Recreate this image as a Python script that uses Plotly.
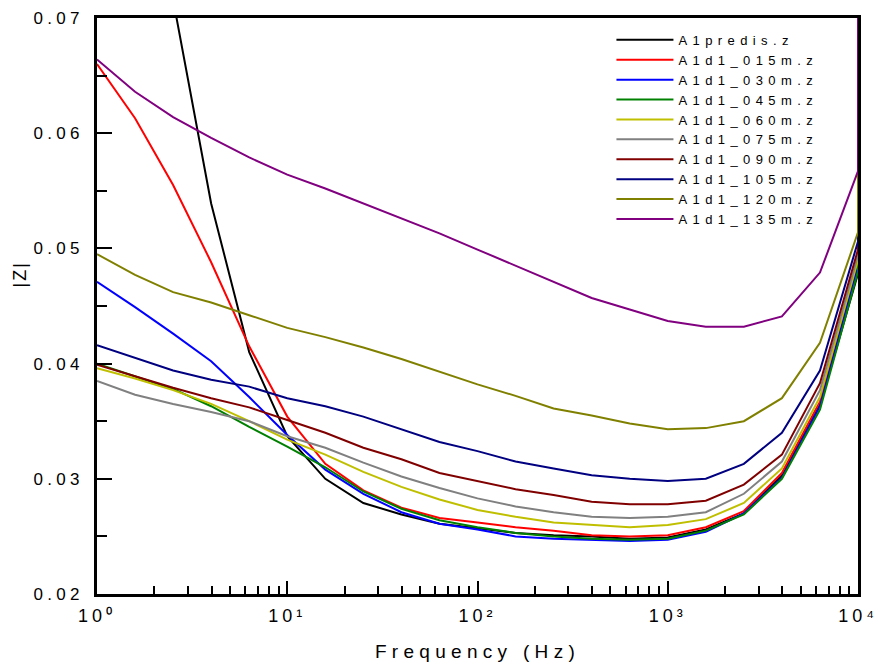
import numpy as np
import plotly.graph_objects as go

# Measurement frequencies (Hz), five points per decade; the last reading lies above 10 kHz
freq = [1.0, 1.585, 2.512, 3.981, 6.310, 10.0, 15.85, 25.12, 39.81, 63.10,
        100.0, 158.5, 251.2, 398.1, 631.0, 1000.0, 1585.0, 2512.0, 3981.0,
        6310.0, 10000.0, 15850.0]

a1predis = [0.112, 0.090, 0.0716, 0.0539, 0.0410, 0.0337, 0.0300, 0.0279, 0.0269, 0.0261,
            0.0257, 0.0253, 0.0251, 0.0250, 0.0248, 0.0249, 0.0256, 0.0270, 0.0303,
            0.0364, 0.0478, 0.085]
a1d1_015 = [0.0660, 0.0613, 0.0555, 0.0488, 0.0415, 0.0354, 0.0313, 0.0290, 0.0275, 0.0266,
            0.0262, 0.0258, 0.0255, 0.0251, 0.0250, 0.0251, 0.0258, 0.0272, 0.0305,
            0.0367, 0.0487, 0.086]
a1d1_030 = [0.0471, 0.0449, 0.0426, 0.0402, 0.0371, 0.0338, 0.0308, 0.0287, 0.0271, 0.0261,
            0.0256, 0.0250, 0.0248, 0.0247, 0.0246, 0.0247, 0.0254, 0.0270, 0.0301,
            0.0363, 0.0485, 0.086]
a1d1_045 = [0.0400, 0.0389, 0.0378, 0.0363, 0.0345, 0.0328, 0.0310, 0.0289, 0.0274, 0.0264,
            0.0258, 0.0253, 0.0250, 0.0248, 0.0247, 0.0248, 0.0255, 0.0269, 0.0300,
            0.0360, 0.0480, 0.085]
a1d1_060 = [0.0396, 0.0387, 0.0377, 0.0365, 0.0350, 0.0334, 0.0321, 0.0306, 0.0293, 0.0282,
            0.0273, 0.0267, 0.0262, 0.0260, 0.0258, 0.0260, 0.0265, 0.0279, 0.0309,
            0.0371, 0.0490, 0.087]
a1d1_075 = [0.0385, 0.0373, 0.0365, 0.0358, 0.0350, 0.0337, 0.0327, 0.0314, 0.0302, 0.0292,
            0.0283, 0.0276, 0.0271, 0.0267, 0.0266, 0.0267, 0.0271, 0.0287, 0.0315,
            0.0377, 0.0494, 0.087]
a1d1_090 = [0.0399, 0.0389, 0.0379, 0.0370, 0.0362, 0.0351, 0.0340, 0.0327, 0.0317, 0.0305,
            0.0298, 0.0291, 0.0286, 0.0280, 0.0278, 0.0278, 0.0281, 0.0295, 0.0321,
            0.0383, 0.0499, 0.088]
a1d1_105 = [0.0416, 0.0405, 0.0394, 0.0386, 0.0380, 0.0370, 0.0363, 0.0354, 0.0343, 0.0332,
            0.0324, 0.0315, 0.0309, 0.0303, 0.0300, 0.0298, 0.0300, 0.0313, 0.0340,
            0.0394, 0.0506, 0.089]
a1d1_120 = [0.0495, 0.0477, 0.0462, 0.0453, 0.0442, 0.0431, 0.0423, 0.0414, 0.0404, 0.0393,
            0.0382, 0.0372, 0.0361, 0.0355, 0.0348, 0.0343, 0.0344, 0.0350, 0.0370,
            0.0418, 0.0514, 0.090]
a1d1_135 = [0.0664, 0.0636, 0.0614, 0.0596, 0.0579, 0.0564, 0.0552, 0.0539, 0.0526, 0.0513,
            0.0499, 0.0485, 0.0471, 0.0457, 0.0447, 0.0437, 0.0432, 0.0432, 0.0441,
            0.0479, 0.0567, 0.095]

series_names = ["A1predis.z", "A1d1_015m.z", "A1d1_030m.z", "A1d1_045m.z", "A1d1_060m.z",
                "A1d1_075m.z", "A1d1_090m.z", "A1d1_105m.z", "A1d1_120m.z", "A1d1_135m.z"]
series_values = [a1predis, a1d1_015, a1d1_030, a1d1_045, a1d1_060,
                 a1d1_075, a1d1_090, a1d1_105, a1d1_120, a1d1_135]
series_colors = ["#000000", "#FF0000", "#0000FF", "#008000", "#BFBF00",
                 "#808080", "#800000", "#000080", "#808000", "#800080"]

x_ticks = [1, 10, 100, 1000, 10000]
x_tick_labels = ["10\u2070", "10\u00b9", "10\u00b2", "10\u00b3", "10\u2074"]
y_ticks = [0.02, 0.03, 0.04, 0.05, 0.06, 0.07]
y_tick_labels = ["0.02", "0.03", "0.04", "0.05", "0.06", "0.07"]

F_MIN, F_MAX = 1.0, 10000.0
FONT = "Liberation Sans, Arial, sans-serif"


def spaced(text, ls, size):
    return f'<span style="letter-spacing:{ls}px;font-size:{size}px">{text}</span>'


# Readings beyond the axis end are pinned to the right edge of the frame
x_plot = np.clip(np.array(freq), F_MIN, F_MAX)

fig = go.Figure()
for name, vals, col in zip(series_names, series_values, series_colors):
    fig.add_trace(go.Scatter(
        x=x_plot, y=vals, mode="lines", name=spaced(name, 5.4, 13),
        line=dict(color=col, width=2),
    ))

fig.update_layout(
    width=877, height=669,
    margin=dict(l=97, r=19, t=18, b=75),
    paper_bgcolor="white", plot_bgcolor="white",
    font=dict(family=FONT, color="black", size=17),
    showlegend=True,
    legend=dict(
        x=0.676, y=0.988, xanchor="left", yanchor="top",
        bgcolor="rgba(0,0,0,0)", borderwidth=0,
        font=dict(family=FONT, size=13, color="black"),
        itemwidth=57, tracegroupgap=0,
    ),
)

fig.update_xaxes(
    type="log", range=[np.log10(F_MIN), np.log10(F_MAX)],
    automargin=False,
    showgrid=False, zeroline=False,
    showline=True, linecolor="black", linewidth=2.5, mirror=True,
    ticks="inside", ticklen=13, tickwidth=2, tickcolor="black",
    tickmode="array", tickvals=x_ticks,
    ticktext=[spaced(t, 4.0, 18) for t in x_tick_labels],
    tickfont=dict(family=FONT, size=18),
    ticklabelstandoff=4, ticklabeloverflow="allow",
    minor=dict(ticks="inside", ticklen=8, tickwidth=2, tickcolor="black", dtick="D1"),
    title=dict(text=spaced("Frequency (Hz)", 5.3, 19), font=dict(family=FONT, size=19),
               standoff=20),
)

fig.update_yaxes(
    range=[0.02, 0.07],
    automargin=False,
    showgrid=False, zeroline=False,
    showline=True, linecolor="black", linewidth=2.5, mirror=True,
    ticks="inside", ticklen=15, tickwidth=2, tickcolor="black",
    tickmode="array", tickvals=y_ticks,
    ticktext=[spaced(t, 4.3, 17) for t in y_tick_labels],
    tickfont=dict(family=FONT, size=17),
    ticklabelstandoff=7, ticklabeloverflow="allow",
    minor=dict(ticks="inside", ticklen=10, tickwidth=2, tickcolor="black", dtick=0.005),
)

# Vertical axis title
fig.add_annotation(
    text=spaced("|Z|", 2, 18), textangle=-90,
    xref="paper", yref="paper", x=-0.101, y=0.555,
    xanchor="center", yanchor="middle", showarrow=False,
    font=dict(family=FONT, size=18, color="black"),
)

fig.write_html("out.html")
